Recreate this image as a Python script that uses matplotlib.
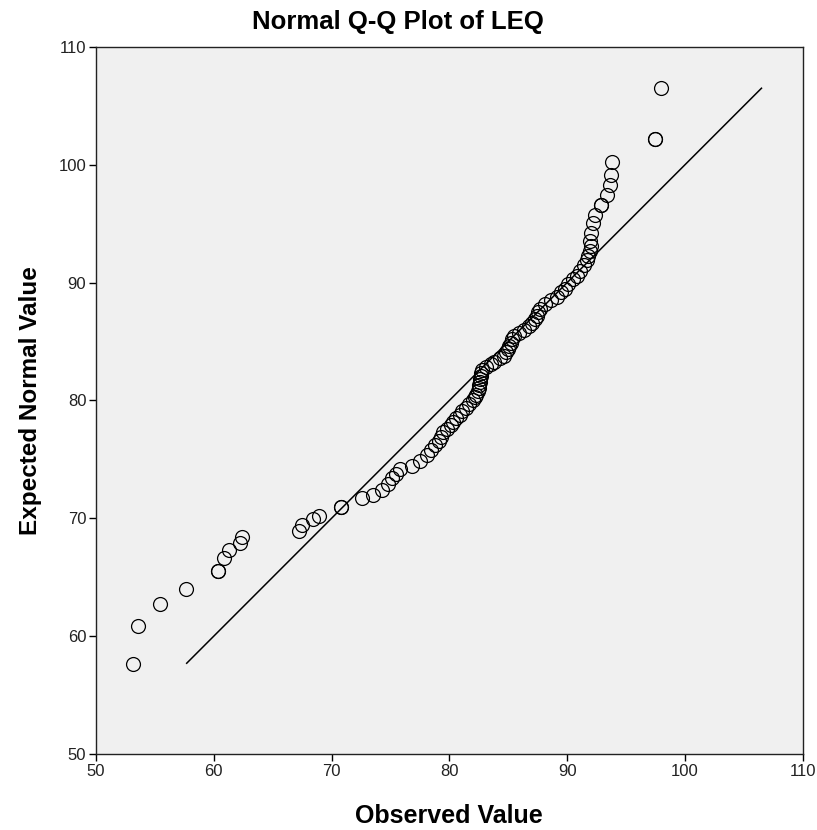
import matplotlib
matplotlib.use("Agg")
import matplotlib.pyplot as plt

observed = [
    53.1, 53.6, 55.4, 57.6, 60.4, 60.4, 60.9, 61.3, 62.2, 62.4,
    67.2, 67.5, 68.4, 68.9, 70.8, 70.8, 72.6, 73.5, 74.3, 74.8,
    75.1, 75.5, 75.8,
    76.8, 77.5, 78.1, 78.4, 78.8, 79.1, 79.3, 79.5, 79.8, 80.1,
    80.3, 80.6, 80.9, 81.1, 81.4, 81.7, 82.0, 82.2, 82.3, 82.4,
    82.5, 82.5, 82.6, 82.6, 82.7, 82.7, 82.8, 83.1, 83.5, 83.8,
    84.3, 84.6, 84.8, 85.0, 85.1, 85.2, 85.3, 85.5, 85.9, 86.3,
    86.8, 87.0, 87.3, 87.4, 87.5, 87.7, 88.1, 88.6, 89.1, 89.5,
    89.8, 90.1, 90.5, 90.8, 91.1, 91.4, 91.7,
    91.8, 91.9, 92.0, 91.9, 92.05, 92.2, 92.4, 92.9, 92.9, 93.4,
    93.6, 93.7, 93.8, 97.5, 97.5, 98.0,
]
expected = [
    57.6, 60.9, 62.7, 64.0, 65.5, 65.5, 66.6, 67.3, 67.9, 68.4,
    68.9, 69.4, 69.9, 70.2, 71.0, 71.0, 71.7, 72.0, 72.4, 72.9,
    73.4, 73.8, 74.2,
    74.4, 74.9, 75.4, 75.8, 76.2, 76.6, 76.9, 77.3, 77.6, 77.9,
    78.2, 78.5, 78.8, 79.1, 79.4, 79.7, 80.0, 80.3, 80.5, 80.8,
    81.1, 81.3, 81.6, 81.8, 82.1, 82.3, 82.6, 82.8, 83.1, 83.3,
    83.6, 83.8, 84.1, 84.4, 84.6, 84.9, 85.2, 85.5, 85.7, 86.0,
    86.3, 86.6, 86.9, 87.2, 87.5, 87.8, 88.2, 88.5, 88.8, 89.2,
    89.5, 89.9, 90.3, 90.6, 91.0, 91.5, 91.9,
    92.3, 92.7, 93.1, 93.5, 94.2, 95.1, 95.7, 96.6, 96.6, 97.4,
    98.3, 99.1, 100.2, 102.2, 102.2, 106.5,
]

# reference line y = x
line_range = [57.7, 106.5]

ticks = [50, 60, 70, 80, 90, 100, 110]

plt.rcParams['font.family'] = ['Liberation Sans', 'DejaVu Sans']

fig = plt.figure(figsize=(8.17, 8.30), dpi=100)
ax = fig.add_axes([0.1175, 0.0916, 0.865, 0.8518])
ax.set_facecolor('#f0f0f0')

ax.plot(line_range, line_range, color='black', lw=1.1, zorder=2)
ax.plot(observed, expected, linestyle='none', marker='o', markersize=10,
        markerfacecolor='none', markeredgecolor='black', markeredgewidth=0.9,
        zorder=3)

ax.set_xlim(50, 110)
ax.set_ylim(50, 110)
ax.set_xticks(ticks)
ax.set_yticks(ticks)
ax.tick_params(direction='out', length=5, width=1, labelsize=12,
               labelcolor='#222222', pad=2)

for side in ['left', 'bottom', 'top', 'right']:
    ax.spines[side].set_color('#222222')
    ax.spines[side].set_linewidth(1.0)

# title is centred over the whole chart, not just the axes
fig.text(398 / 817, 1 - 22 / 830, 'Normal Q-Q Plot of LEQ', fontsize=18.5,
         fontweight='bold', ha='center', va='center')
ax.set_xlabel('Observed Value', fontsize=18, fontweight='bold', labelpad=18)
ax.set_ylabel('Expected Normal Value', fontsize=17.5, fontweight='bold', labelpad=12)

fig.savefig('out.png', dpi=100, facecolor='white')
